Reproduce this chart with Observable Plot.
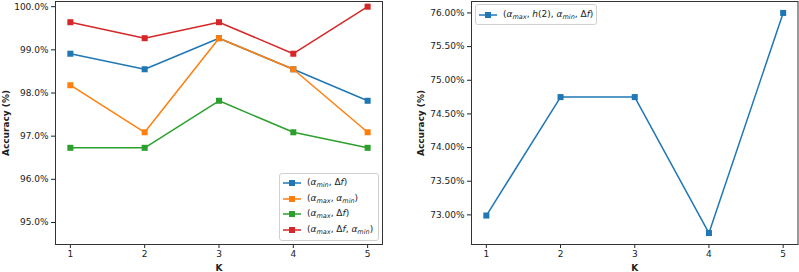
<!DOCTYPE html>
<html><head><meta charset="utf-8">
<script src="https://cdn.jsdelivr.net/npm/d3@7"></script>
<script src="https://cdn.jsdelivr.net/npm/@observablehq/plot@0.6"></script>
<style>
body{margin:0;background:#fff;}
#wrap{display:flex;width:799px;height:272px;font-family:"DejaVu Sans",sans-serif;}
.panel{position:relative;height:272px;}
.legend{position:absolute;background:rgba(255,255,255,0.85);border:1px solid #d0d0d0;border-radius:3px;box-sizing:border-box;font-size:9px;color:#222;padding:1px 0 0 3px;}
.legend .row{display:flex;align-items:center;height:15.7px;white-space:nowrap;}
.legend svg{margin-right:6px;flex:none;}
.legend i{font-family:"DejaVu Sans",sans-serif;font-style:italic;}
.legend sub{font-size:6.5px;vertical-align:-2px;font-style:italic;}
svg [aria-label="y-axis label"] text, svg [aria-label="x-axis label"] text{font-weight:bold;}
</style></head>
<body><div id="wrap"><div class="panel" id="left"></div><div class="panel" id="right"></div></div>
<script>
const K = [1, 2, 3, 4, 5];
const accMinDf = [98.91, 98.55, 99.27, 98.55, 97.82];
const accMaxMin = [98.18, 97.09, 99.27, 98.55, 97.09];
const accMaxDf = [96.73, 96.73, 97.82, 97.09, 96.73];
const accMaxDfMin = [99.64, 99.27, 99.64, 98.91, 100.0];
const accAll = [72.99, 74.75, 74.75, 72.73, 76.00];
const leftTicks = [95, 96, 97, 98, 99, 100];
const rightTicks = [73, 73.5, 74, 74.5, 75, 75.5, 76];
const colors = ["#1f77b4", "#ff7f0e", "#2ca02c", "#d62728"];
const leftNames = [
  "(<i>α</i><sub>min</sub>, Δ<i>f</i>)",
  "(<i>α</i><sub>max</sub>, <i>α</i><sub>min</sub>)",
  "(<i>α</i><sub>max</sub>, Δ<i>f</i>)",
  "(<i>α</i><sub>max</sub>, Δ<i>f</i>, <i>α</i><sub>min</sub>)"
];
const rightName = "(<i>α</i><sub>max</sub>, <i>h</i>(2), <i>α</i><sub>min</sub>, Δ<i>f</i>)";

const leftSeries = [accMinDf, accMaxMin, accMaxDf, accMaxDfMin];
const style = {fontFamily: "DejaVu Sans, sans-serif", fontSize: "9px", color: "#222", background: "#fff"};

function seriesMarks(vals, color) {
  const rows = K.map((k, i) => ({k, v: vals[i]}));
  return [
    Plot.line(rows, {x: "k", y: "v", stroke: color, strokeWidth: 1.5}),
    Plot.dot(rows, {x: "k", y: "v", symbol: "square", r: 3.4, fill: color, stroke: "none"})
  ];
}

const left = Plot.plot({
  width: 400, height: 272,
  marginLeft: 55, marginRight: 18, marginTop: 1, marginBottom: 28,
  style,
  x: {domain: [0.8, 5.2]},
  y: {domain: [94.49, 100.12]},
  marks: [
    Plot.axisY({ticks: leftTicks, tickFormat: d => d.toFixed(1) + "%", tickSize: 4, tickPadding: 3,
      label: "Accuracy (%)", labelAnchor: "center", labelOffset: 53, labelArrow: "none"}),
    Plot.axisX({ticks: K, tickFormat: d => String(d), tickSize: 4, tickPadding: 2,
      label: "K", labelAnchor: "center", labelOffset: 26, labelArrow: "none"}),
    ...leftSeries.flatMap((s, i) => seriesMarks(s, colors[i])),
    Plot.frame({stroke: "#333", strokeWidth: 1})
  ]
});
document.getElementById("left").appendChild(left);

const right = Plot.plot({
  width: 399, height: 272,
  marginLeft: 71, marginRight: 1.5, marginTop: 1, marginBottom: 28,
  style,
  x: {domain: [0.8, 5.2]},
  y: {domain: [72.56, 76.17]},
  marks: [
    Plot.axisY({ticks: rightTicks, tickFormat: d => d.toFixed(2) + "%", tickSize: 4, tickPadding: 3,
      label: "Accuracy (%)", labelAnchor: "center", labelOffset: 54, labelArrow: "none"}),
    Plot.axisX({ticks: K, tickFormat: d => String(d), tickSize: 4, tickPadding: 2,
      label: "K", labelAnchor: "center", labelOffset: 26, labelArrow: "none"}),
    ...seriesMarks(accAll, colors[0]),
    Plot.frame({stroke: "#333", strokeWidth: 1})
  ]
});
document.getElementById("right").appendChild(right);

function swatch(color) {
  return `<svg width="18" height="8"><line x1="0" y1="4" x2="18" y2="4" stroke="${color}" stroke-width="1.5"/><rect x="6" y="1" width="6" height="6" fill="${color}"/></svg>`;
}
const lg = document.createElement("div");
lg.className = "legend";
Object.assign(lg.style, {left: "279px", top: "173px", width: "100px", height: "68px"});
lg.innerHTML = leftNames.map((n, i) => `<div class="row">${swatch(colors[i])}<span>${n}</span></div>`).join("");
document.getElementById("left").appendChild(lg);

const rg = document.createElement("div");
rg.className = "legend";
Object.assign(rg.style, {left: "75px", top: "4px", width: "122px", height: "21px", paddingTop: "2px"});
rg.innerHTML = `<div class="row">${swatch(colors[0])}<span>${rightName}</span></div>`;
document.getElementById("right").appendChild(rg);
</script></body></html>
